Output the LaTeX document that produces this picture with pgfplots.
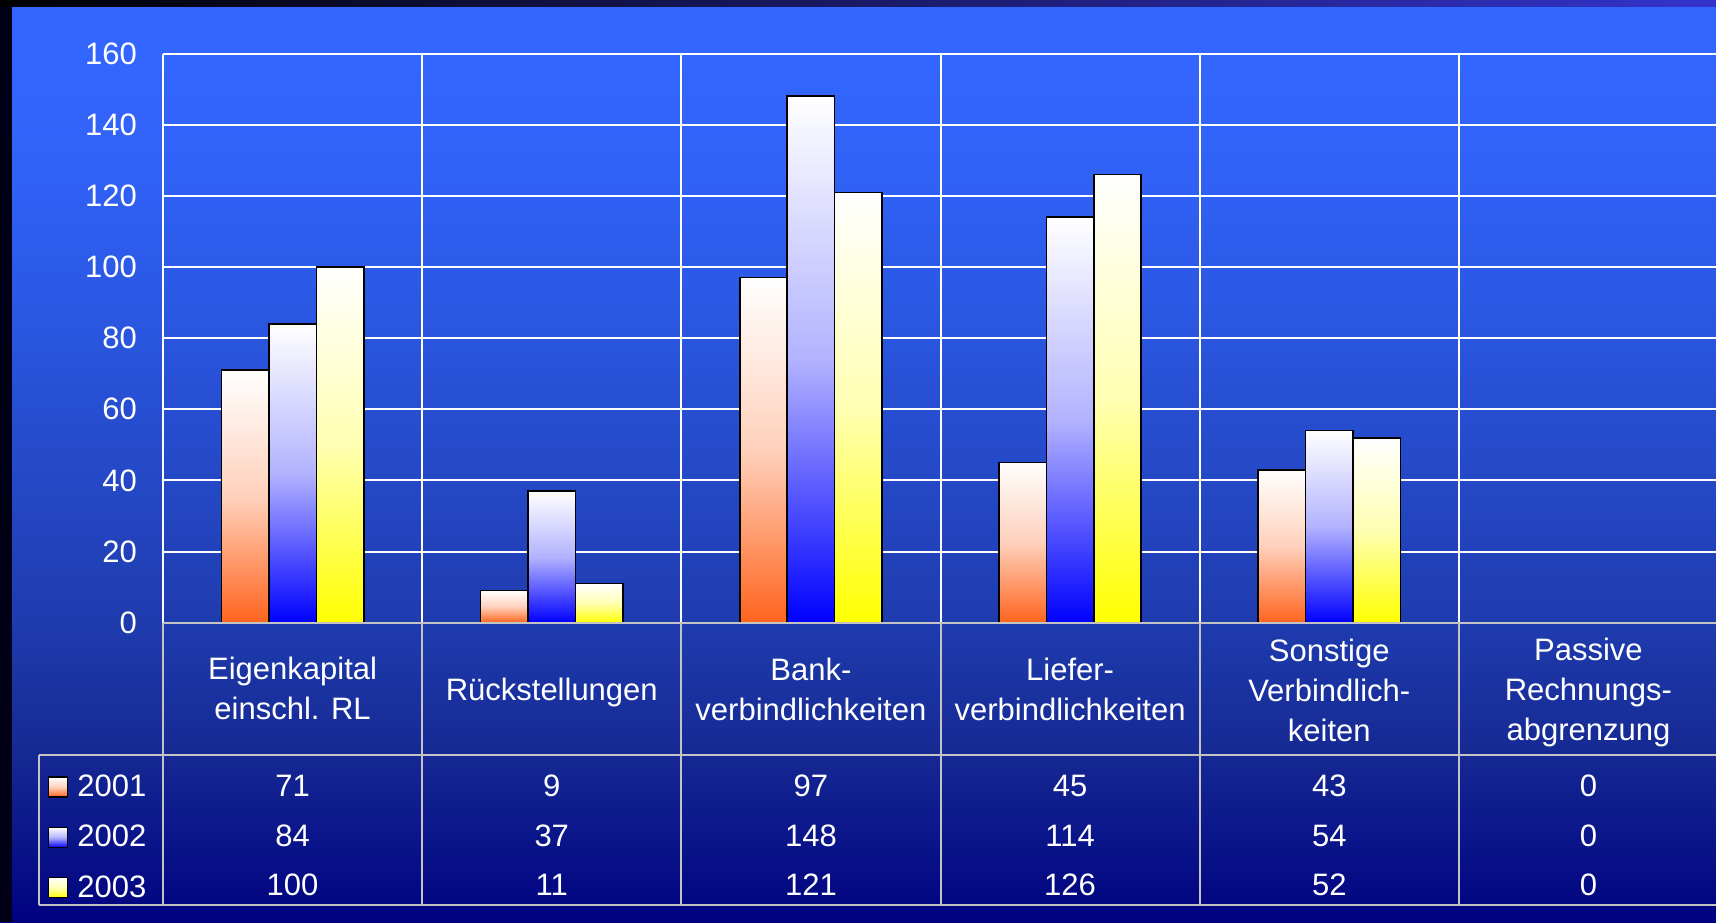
\documentclass[border=0pt]{standalone}
\usepackage{fontspec}
\setmainfont{Liberation Sans}
\usepackage{pgfplots}
\pgfplotsset{compat=1.18}

\definecolor{bgT}{RGB}{51,102,255}
\definecolor{bg4}{RGB}{49,98,247}
\definecolor{bg3}{RGB}{43,88,228}
\definecolor{bg2}{RGB}{31,60,175}
\definecolor{bg1}{RGB}{22,42,148}
\definecolor{bg0}{RGB}{0,2,128}
\definecolor{stripR}{RGB}{51,51,204}
\definecolor{leftstrip}{RGB}{0,0,22}
\definecolor{cA}{RGB}{255,100,30}
\definecolor{cB}{RGB}{0,0,255}
\definecolor{cC}{RGB}{255,255,0}
\definecolor{tblgray}{RGB}{195,195,195}

\pgfdeclareverticalshading{bgshade}{100bp}{color(0bp)=(bg0); color(25bp)=(bg0); color(34.5bp)=(bg1); color(41.5bp)=(bg2); color(58.7bp)=(bg3); color(66bp)=(bg4); color(72bp)=(bgT); color(100bp)=(bgT)}

\newcommand{\lblfont}{\fontsize{15.5}{20}\selectfont}

\pgfplotsset{
  mylegend/.style={legend image code/.code={\draw[##1, line width=0.6pt] (0pt,-5pt) rectangle (9.5pt,5pt);}},
  barbase/.style={ybar, bar width=0.183, draw=black, line width=0.8pt, top color=white, mylegend},
  s1/.style={barbase, bar shift=-0.183, bottom color=cA, middle color=cA!30!white},
  s2/.style={barbase, bar shift=0, bottom color=cB, middle color=cB!30!white},
  s3/.style={barbase, bar shift=0.183, bottom color=cC, middle color=cC!30!white},
}

\begin{document}
\begin{tikzpicture}
\useasboundingbox (0,0) rectangle (858pt,461pt);
\shade[shading=bgshade] (0,0) rectangle (858pt,461pt);
\fill[leftstrip] (0,0) rectangle (6pt,461pt);
\shade[left color=black, right color=stripR] (0,457.5pt) rectangle (858pt,461pt);
\begin{axis}[
  at={(81.5pt,149.65pt)}, anchor=south west,
  width=777.5pt, height=284.55pt, scale only axis,
  xmin=-0.5, xmax=5.5, ymin=0, ymax=160,
  axis line style={draw=none},
  xtick={-0.5,0.5,...,5.5}, xticklabels={},
  ytick={0,20,...,160},
  major tick length=0pt,
  xmajorgrids, ymajorgrids,
  major grid style={white, line width=1pt},
  clip=false,
  /pgf/number format/assume math mode=true,
  tick label style={font=\lblfont, text=white},
  yticklabel style={inner sep=0pt, anchor=east, xshift=-12.9pt},
  legend style={at={(-0.07395,-0.2669)}, anchor=north west, draw=none, fill=none,
    inner sep=0pt, outer sep=0pt, row sep=12.9pt, font=\lblfont,
    nodes={inner sep=0pt, text=white},
    /tikz/every odd column/.append style={column sep=4.6pt}},
  legend cell align=left,
]
% series 2001
\addplot[s1] coordinates {(0,71)}; \addlegendentry{2001}
% series 2002
\addplot[s2] coordinates {(0,84)}; \addlegendentry{2002}
% series 2003
\addplot[s3] coordinates {(0,100)}; \addlegendentry{2003}
% remaining bars, one path each so that each bar gets its own gradient
\addplot[s1, forget plot] coordinates {(1,9)};
\addplot[s1, forget plot] coordinates {(2,97)};
\addplot[s1, forget plot] coordinates {(3,45)};
\addplot[s1, forget plot] coordinates {(4,43)};
\addplot[s2, forget plot] coordinates {(1,37)};
\addplot[s2, forget plot] coordinates {(2,148)};
\addplot[s2, forget plot] coordinates {(3,114)};
\addplot[s2, forget plot] coordinates {(4,54)};
\addplot[s3, forget plot] coordinates {(1,11)};
\addplot[s3, forget plot] coordinates {(2,121)};
\addplot[s3, forget plot] coordinates {(3,126)};
\addplot[s3, forget plot] coordinates {(4,52)};

% table grid
\draw[tblgray, line width=1pt] (axis cs:-0.5,0) -- (axis cs:5.7,0);
\draw[tblgray, line width=1pt] (axis cs:-0.978,-37.25) -- (axis cs:5.7,-37.25);
\draw[tblgray, line width=1pt] (axis cs:-0.978,-79.37) -- (axis cs:5.7,-79.37);
\draw[tblgray, line width=1pt] (axis cs:-0.978,-37.25) -- (axis cs:-0.978,-79.37);
\draw[tblgray, line width=1pt] (axis cs:-0.5,0) -- (axis cs:-0.5,-79.37);
\draw[tblgray, line width=1pt] (axis cs:0.5,0) -- (axis cs:0.5,-79.37);
\draw[tblgray, line width=1pt] (axis cs:1.5,0) -- (axis cs:1.5,-79.37);
\draw[tblgray, line width=1pt] (axis cs:2.5,0) -- (axis cs:2.5,-79.37);
\draw[tblgray, line width=1pt] (axis cs:3.5,0) -- (axis cs:3.5,-79.37);
\draw[tblgray, line width=1pt] (axis cs:4.5,0) -- (axis cs:4.5,-79.37);

% category labels
\tikzset{lbl/.style={align=center, font=\lblfont, text=white, inner sep=0pt}}
\node[lbl] at (axis cs:0,-18.6) {Eigenkapital\\einschl. RL};
\node[lbl] at (axis cs:1,-19.5) {Rückstellungen};
\node[lbl] at (axis cs:2,-18.8) {Bank-\\verbindlichkeiten};
\node[lbl] at (axis cs:3,-18.8) {Liefer-\\verbindlichkeiten};
\node[lbl] at (axis cs:4,-18.9) {Sonstige\\Verbindlich-\\keiten};
\node[lbl] at (axis cs:5,-19.7) {Passive\\Rechnungs-\\abgrenzung};

% data table values
\tikzset{val/.style={anchor=base, font=\lblfont, text=white, inner sep=0pt}}
\node[val] at (axis cs:0,-48.8) {71};
\node[val] at (axis cs:1,-48.8) {9};
\node[val] at (axis cs:2,-48.8) {97};
\node[val] at (axis cs:3,-48.8) {45};
\node[val] at (axis cs:4,-48.8) {43};
\node[val] at (axis cs:5,-48.8) {0};
\node[val] at (axis cs:0,-62.8) {84};
\node[val] at (axis cs:1,-62.8) {37};
\node[val] at (axis cs:2,-62.8) {148};
\node[val] at (axis cs:3,-62.8) {114};
\node[val] at (axis cs:4,-62.8) {54};
\node[val] at (axis cs:5,-62.8) {0};
\node[val] at (axis cs:0,-76.8) {100};
\node[val] at (axis cs:1,-76.8) {11};
\node[val] at (axis cs:2,-76.8) {121};
\node[val] at (axis cs:3,-76.8) {126};
\node[val] at (axis cs:4,-76.8) {52};
\node[val] at (axis cs:5,-76.8) {0};
\end{axis}
\end{tikzpicture}
\end{document}
